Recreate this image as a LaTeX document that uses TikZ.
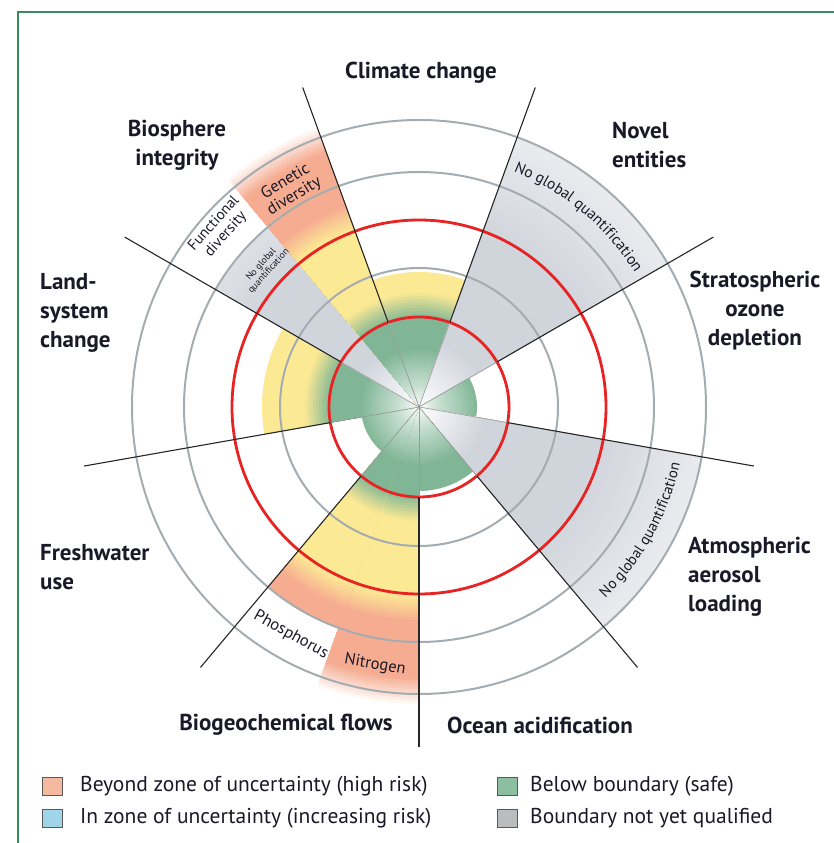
\documentclass[tikz,border=0pt]{standalone}
\usepackage{fontspec}
\setmainfont{PT Sans}
\usetikzlibrary{decorations.text}

\definecolor{framegreen}{RGB}{55,140,95}
\definecolor{safe}{RGB}{128,182,150}
\definecolor{unc}{RGB}{252,233,148}
\definecolor{high}{RGB}{246,172,145}
\definecolor{nq}{RGB}{208,212,219}
\definecolor{ringgray}{RGB}{165,172,177}
\definecolor{bndred}{RGB}{232,35,35}
\definecolor{txt}{RGB}{25,25,40}
\definecolor{leghigh}{RGB}{245,185,160}
\definecolor{legunc}{RGB}{160,212,232}
\definecolor{legsafe}{RGB}{140,190,160}
\definecolor{legnq}{RGB}{186,189,192}

% colour of a boundary wedge at radius #1
\newcommand\zonecol[1]{%
  \pgfmathtruncatemacro\rr{#1}%
  \ifnum\rr<22 \pgfmathtruncatemacro\t{\rr*2}\colorlet{cur}{safe!\t!white}%
  \else\ifnum\rr<60 \pgfmathtruncatemacro\t{44+(\rr-22)*56/38}\colorlet{cur}{safe!\t!white}%
  \else\ifnum\rr<90 \colorlet{cur}{safe}%
  \else\ifnum\rr<116 \pgfmathtruncatemacro\t{(\rr-90)*100/26}\colorlet{cur}{unc!\t!safe}%
  \else\ifnum\rr<190 \colorlet{cur}{unc}%
  \else\ifnum\rr<216 \pgfmathtruncatemacro\t{(\rr-190)*100/26}\colorlet{cur}{high!\t!unc}%
  \else\ifnum\rr<272 \colorlet{cur}{high}%
  \else \pgfmathtruncatemacro\t{max(0,100-(\rr-272)*100/28)}\colorlet{cur}{high!\t!white}%
  \fi\fi\fi\fi\fi\fi\fi}
\newcommand\nqcol[1]{%
  \pgfmathtruncatemacro\rr{#1}%
  \ifnum\rr<70 \pgfmathtruncatemacro\t{\rr*100/70}\colorlet{cur}{nq!\t!white}%
  \else\ifnum\rr<180 \colorlet{cur}{nq}%
  \else \pgfmathtruncatemacro\t{100-(\rr-180)*55/110}\colorlet{cur}{nq!\t!white}%
  \fi\fi}

\newcommand\pbwedge[4]{%
  \pgfmathtruncatemacro\rnext{#3-3}%
  \foreach \r in {#3,\rnext,...,1} {%
    #4{\r}%
    \fill[cur] (0,0) -- (#1:\r) arc[start angle=#1, end angle=#2, radius=\r] -- cycle;
  }}

\begin{document}
\begin{tikzpicture}[x=1pt, y=1pt,
    ring/.style={draw=ringgray, line width=2},
    redring/.style={draw=bndred, line width=2.8},
    spoke/.style={black!85, line width=1.1},
    pblabel/.style={font=\fontsize{23}{29}\selectfont\bfseries, text=txt, inner sep=0},
    sublabel/.style={font=\fontsize{16.5}{17}\selectfont, text=txt, inner sep=0, align=center},
    legbox/.style={draw=black!65, line width=0.8, minimum width=20, minimum height=18, inner sep=0},
    legtext/.style={font=\fontsize{21.5}{23}\selectfont, text=txt, anchor=west, inner sep=0}]
  \useasboundingbox (-419,-436) rectangle (415,407);
  \draw[framegreen, line width=2.5] (-401,-436) -- (-401,395) -- (415,395);

  % boundary wedges
  \pbwedge{70}{110}{135}{\zonecol}
  \pbwedge{30}{70}{287}{\nqcol}
  \pbwedge{-10}{30}{58}{\zonecol}
  \pbwedge{-50}{-10}{287}{\nqcol}
  \pbwedge{-90}{-50}{84}{\zonecol}
  \pbwedge{-110}{-90}{300}{\zonecol}
  \pbwedge{-130}{-110}{235}{\zonecol}
  \pbwedge{-170}{-130}{58}{\zonecol}
  \pbwedge{150}{190}{157}{\zonecol}
  \pbwedge{130}{150}{235}{\nqcol}
  \pbwedge{110}{130}{300}{\zonecol}

  \foreach \r in {139,235,287} \draw[ring] (0,0) circle (\r);
  \foreach \r in {90,187} \draw[redring] (0,0) circle (\r);
  \foreach \a in {-170,-130,...,150} {
    \draw[black!40, line width=0.6] (0,0) -- (\a:90);
    \draw[spoke] (\a:90) -- (\a:340);
  }

  \path[decorate, decoration={text along path, text align=center, text color=txt,
      text={|\fontsize{15.5}{16}\selectfont|No global quantification}}]
    (76:254) arc[start angle=76, end angle=24, radius=254];
  \path[decorate, decoration={text along path, text align=center, text color=txt,
      text={|\fontsize{15}{16}\selectfont|No global quantification}}]
    (-54:267) arc[start angle=-54, end angle=-4, radius=267];

  \node[sublabel, rotate=31] (genetic) at (-129,218) {Genetic\\diversity};
  \node[sublabel, rotate=48, font=\fontsize{15}{16}\selectfont] (functional) at (-199,178) {Functional\\diversity};
  \node[sublabel, rotate=48, font=\fontsize{9.5}{10}\selectfont] (funcnq) at (-154,139) {No global\\quantification};
  \node[sublabel, rotate=-29] (phos) at (-128,-228) {Phosphorus};
  \node[sublabel, rotate=-10] (nitro) at (-44,-258) {Nitrogen};

  \node[pblabel] (climate) at (2,334) {Climate change};
  \node[pblabel, anchor=west, align=left] (novel) at (193,262) {Novel\\entities};
  \node[pblabel, align=center] (ozone) at (336,96) {Stratospheric\\ozone\\depletion};
  \node[pblabel, anchor=west, align=left] (aerosol) at (269,-170) {Atmospheric\\aerosol\\loading};
  \node[pblabel] (ocean) at (121,-318) {Ocean acidification};
  \node[pblabel] (biogeo) at (-133,-318) {Biogeochemical flows};
  \node[pblabel, anchor=west, align=left] (fresh) at (-379,-160) {Freshwater\\use};
  \node[pblabel, anchor=west, align=left] (land) at (-379,94) {Land-\\system\\change};
  \node[pblabel, align=center] (biosphere) at (-242,262) {Biosphere\\integrity};

  % legend
  \node[legbox, fill=leghigh] (lgA) at (-367,-379) {};
  \node[legtext] (lgAt) at (-339,-379) {Beyond zone of uncertainty (high risk)};
  \node[legbox, fill=legunc] (lgB) at (-367,-411) {};
  \node[legtext] (lgBt) at (-339,-411) {In zone of uncertainty (increasing risk)};
  \node[legbox, fill=legsafe] (lgC) at (88,-379) {};
  \node[legtext] (lgCt) at (111,-379) {Below boundary (safe)};
  \node[legbox, fill=legnq] (lgD) at (88,-411) {};
  \node[legtext] (lgDt) at (111,-411) {Boundary not yet qualified};
\end{tikzpicture}
\end{document}
